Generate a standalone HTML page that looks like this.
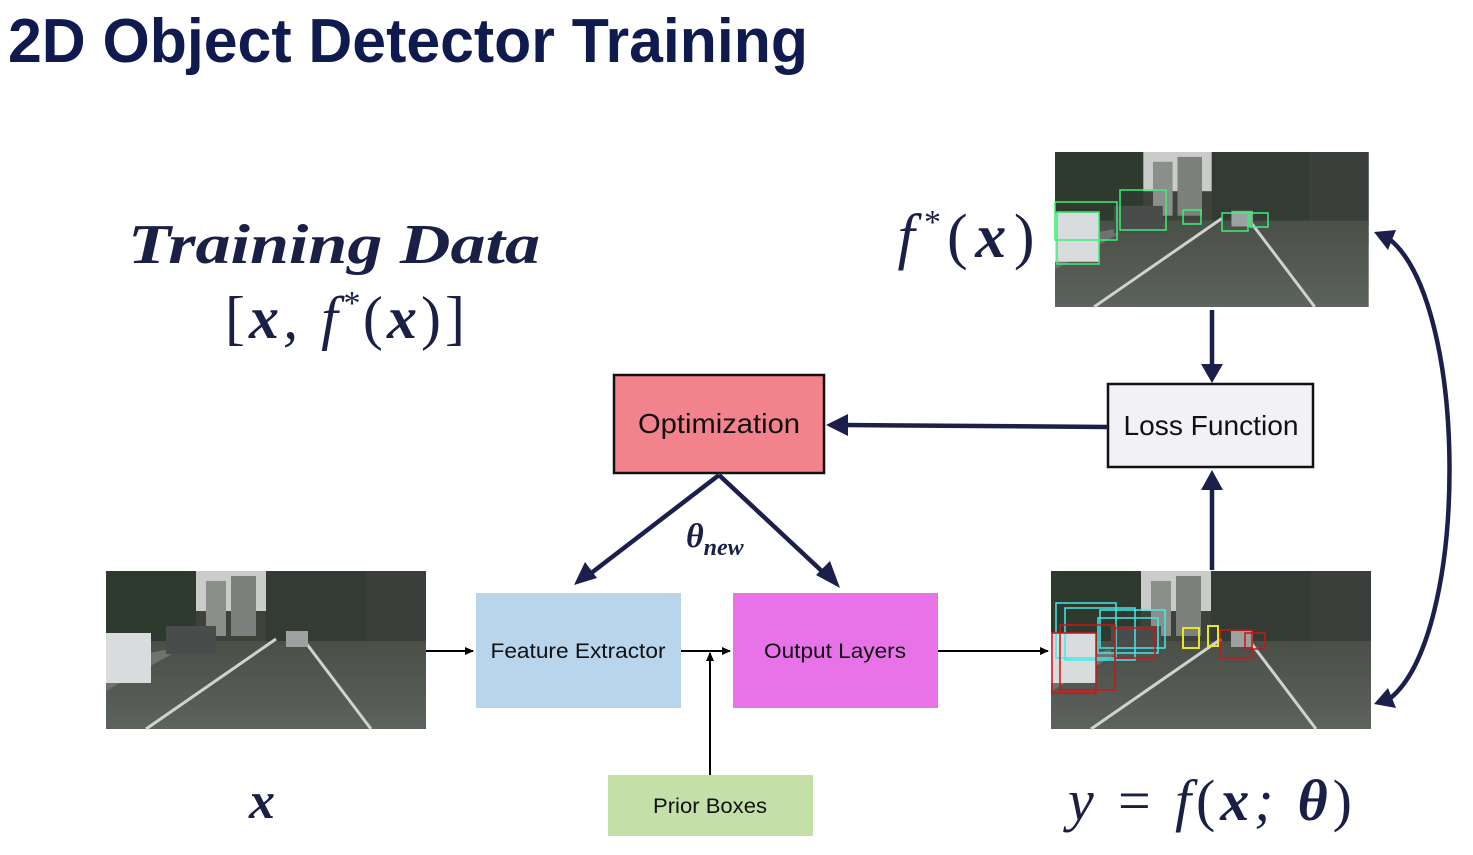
<!DOCTYPE html>
<html><head><meta charset="utf-8"><style>
html,body{margin:0;padding:0;background:#fff}
svg{display:block}
</style></head><body>
<svg width="1473" height="855" viewBox="0 0 1473 855" xmlns="http://www.w3.org/2000/svg">
<defs>
<linearGradient id="road" x1="0" y1="0" x2="0" y2="1">
<stop offset="0" stop-color="#4a5048"/><stop offset="1" stop-color="#5c625c"/>
</linearGradient>
<g id="street">
<rect x="0" y="0" width="320" height="158" fill="#3d4339"/>
<rect x="90" y="0" width="70" height="40" fill="#c9ccc8"/>
<rect x="100" y="10" width="20" height="55" fill="#8a8f8c"/>
<rect x="125" y="5" width="25" height="60" fill="#7c817d"/>
<rect x="0" y="0" width="90" height="75" fill="#2f3a2e"/>
<rect x="160" y="0" width="160" height="75" fill="#343b34"/>
<rect x="260" y="0" width="60" height="95" fill="#3a3f3b"/>
<polygon points="0,70 320,70 320,158 0,158" fill="url(#road)"/>
<polygon points="0,90 80,75 0,120" fill="#6f736f"/>
<line x1="40" y1="158" x2="170" y2="68" stroke="#cfd2cf" stroke-width="3"/>
<line x1="200" y1="72" x2="265" y2="158" stroke="#cfd2cf" stroke-width="3"/>
<rect x="0" y="62" width="45" height="50" fill="#d8dcdc"/>
<rect x="60" y="55" width="50" height="28" fill="#4a4c4c"/>
<rect x="180" y="60" width="22" height="16" fill="#9da19f"/>
</g>
<marker id="ah" markerWidth="10" markerHeight="10" refX="8" refY="5" orient="auto" markerUnits="userSpaceOnUse"><path d="M0,1 L9,5 L0,9 Z" fill="#000"/></marker>
</defs>

<text x="8" y="62" font-family="Liberation Sans, sans-serif" font-weight="bold" font-size="62" fill="#0f1a4f" textLength="800" lengthAdjust="spacingAndGlyphs">2D Object Detector Training</text>

<text x="334" y="263" text-anchor="middle" font-family="Liberation Serif, serif" font-weight="bold" font-style="italic" font-size="56" fill="#1a1f45" textLength="412" lengthAdjust="spacingAndGlyphs">Training Data</text>
<text x="345" y="338" text-anchor="middle" font-family="Liberation Serif, serif" font-style="italic" font-size="60" fill="#1a1f45" textLength="240" lengthAdjust="spacing"><tspan font-style="normal">[</tspan><tspan font-weight="bold">x</tspan>,  f<tspan font-size="34" dy="-24">*</tspan><tspan dy="24" font-style="normal">(</tspan><tspan font-weight="bold">x</tspan><tspan font-style="normal">)]</tspan></text>

<text x="966" y="257" text-anchor="middle" font-family="Liberation Serif, serif" font-style="italic" font-size="62" fill="#1a1f45" textLength="137" lengthAdjust="spacing">f<tspan font-size="34" dy="-24">*</tspan><tspan dy="24" font-style="normal">(</tspan><tspan font-weight="bold">x</tspan><tspan font-style="normal">)</tspan></text>

<g transform="translate(1055,152) scale(0.98,0.98)"><use href="#street"/></g>
<g fill="none" stroke="#3cf07a" stroke-width="1.5">
<rect x="1057" y="212" width="42" height="52"/><rect x="1055" y="202" width="62" height="38"/>
<rect x="1120" y="190" width="46" height="40"/><rect x="1183" y="210" width="18" height="14"/>
<rect x="1222" y="213" width="26" height="18"/><rect x="1250" y="213" width="18" height="14"/>
</g>

<g transform="translate(106,571)"><use href="#street"/></g>

<g transform="translate(1051,571)"><use href="#street"/></g>
<g fill="none" stroke="#45e8e8" stroke-width="1.5">
<rect x="1056" y="603" width="60" height="55"/><rect x="1065" y="608" width="70" height="52"/><rect x="1100" y="610" width="65" height="38"/><rect x="1098" y="618" width="60" height="35"/>
</g>
<g fill="none" stroke="#cc1418" stroke-width="1.5">
<rect x="1052" y="633" width="44" height="60"/><rect x="1060" y="625" width="55" height="65"/><rect x="1115" y="628" width="40" height="30"/>
<rect x="1220" y="630" width="32" height="28"/><rect x="1245" y="633" width="20" height="16"/>
</g>
<g fill="none" stroke="#e8e820" stroke-width="2"><rect x="1183" y="628" width="16" height="20"/><rect x="1208" y="626" width="10" height="20"/></g>

<rect x="614" y="375" width="210" height="98" fill="#f2838d" stroke="#111" stroke-width="2.5"/>
<text x="719" y="433" text-anchor="middle" font-family="Liberation Sans, sans-serif" font-size="28" fill="#111" textLength="162" lengthAdjust="spacingAndGlyphs">Optimization</text>
<rect x="1108" y="384" width="205" height="83" fill="#f2f2f6" stroke="#111" stroke-width="2.5"/>
<text x="1211" y="435" text-anchor="middle" font-family="Liberation Sans, sans-serif" font-size="28" fill="#111" textLength="175" lengthAdjust="spacingAndGlyphs">Loss Function</text>
<rect x="476" y="593" width="205" height="115" fill="#b8d5ec"/>
<text x="578" y="658" text-anchor="middle" font-family="Liberation Sans, sans-serif" font-size="21" fill="#111" textLength="175" lengthAdjust="spacingAndGlyphs">Feature Extractor</text>
<rect x="733" y="593" width="205" height="115" fill="#e872e8"/>
<text x="835" y="658" text-anchor="middle" font-family="Liberation Sans, sans-serif" font-size="21" fill="#111" textLength="142" lengthAdjust="spacingAndGlyphs">Output Layers</text>
<rect x="608" y="775" width="205" height="61" fill="#c4e0a8"/>
<text x="710" y="813" text-anchor="middle" font-family="Liberation Sans, sans-serif" font-size="21" fill="#111" textLength="114" lengthAdjust="spacingAndGlyphs">Prior Boxes</text>

<g stroke="#000" stroke-width="2" fill="none">
<line x1="426" y1="651" x2="473" y2="651" marker-end="url(#ah)"/>
<line x1="681" y1="651" x2="730" y2="651" marker-end="url(#ah)"/>
<line x1="710" y1="775" x2="710" y2="653" marker-end="url(#ah)"/>
<line x1="938" y1="651" x2="1048" y2="651" marker-end="url(#ah)"/>
</g>

<g stroke="#1c1f4c" stroke-width="4.5" fill="none">
<line x1="1212" y1="310" x2="1212" y2="370"/>
<line x1="1212" y1="570" x2="1212" y2="485"/>
<line x1="1108" y1="427" x2="845" y2="425"/>
<line x1="719" y1="475" x2="590" y2="574"/>
<line x1="719" y1="475" x2="826" y2="575"/>
<path d="M1388,238 C1470,300 1470,640 1388,700"/>
</g>
<g fill="#1c1f4c">
<polygon points="1201,364 1223,364 1212,383"/>
<polygon points="1201,490 1223,490 1212,470"/>
<polygon points="826,425 848,414 848,436"/>
<polygon points="574,585 585,562 597,578"/>
<polygon points="840,588 816,575 830,561"/>
<polygon points="1374,232 1396,230 1388,250"/>
<polygon points="1374,704 1396,708 1388,688"/>
</g>

<text x="686" y="547" font-family="Liberation Serif, serif" font-weight="bold" font-style="italic" font-size="34" fill="#1a1f45">θ<tspan font-size="24" dy="8">new</tspan></text>

<text x="262" y="818" text-anchor="middle" font-family="Liberation Serif, serif" font-weight="bold" font-style="italic" font-size="52" fill="#1a1f45">x</text>
<text x="1210" y="820" text-anchor="middle" font-family="Liberation Serif, serif" font-style="italic" font-size="58" fill="#1a1f45" textLength="284" lengthAdjust="spacing">y <tspan font-style="normal">=</tspan> f<tspan font-style="normal">(</tspan><tspan font-weight="bold">x</tspan>; <tspan font-weight="bold">θ</tspan><tspan font-style="normal">)</tspan></text>
</svg>
</body></html>
